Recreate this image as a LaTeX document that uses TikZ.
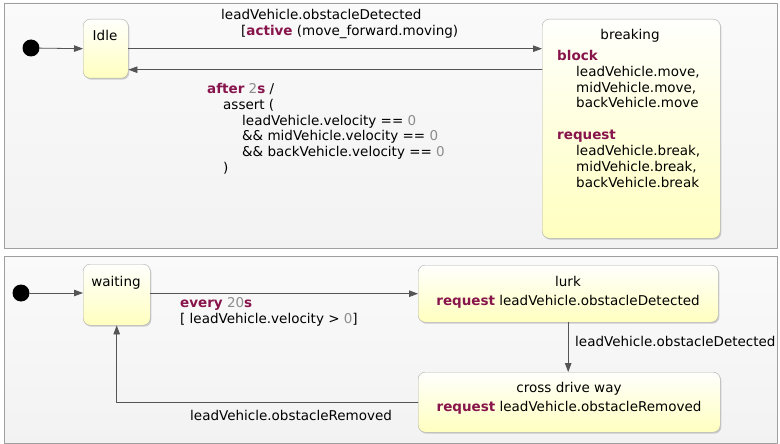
\documentclass[tikz,border=0pt]{standalone}
\usepackage{fontspec}
\setmainfont{DejaVu Sans}
\usepackage[usenames]{xcolor}
\usepackage{tikz}
\usetikzlibrary{arrows.meta,shadows}

\definecolor{kwcol}{RGB}{135,20,75}
\definecolor{numcol}{RGB}{140,140,140}
\definecolor{edgecol}{RGB}{85,85,85}
\newcommand{\kw}[1]{\textcolor{kwcol}{\textbf{#1}}}
\newcommand{\nm}[1]{\textcolor{numcol}{#1}}

\begin{document}
\begin{tikzpicture}[line cap=round,line join=round,x=1pt,y=-1pt,
  font=\fontsize{13.5}{15.8}\selectfont,
  panel/.style={draw=gray!75,top color=gray!4,bottom color=gray!10},
  state/.style={draw=gray!65,rounded corners=7pt,top color=yellow!1,bottom color=yellow!25,
    drop shadow={opacity=0.35,shadow xshift=1.2pt,shadow yshift=-1.5pt},
    anchor=north west,inner sep=0pt},
  trans/.style={draw=edgecol,line width=0.8pt,-{Triangle[length=9pt,width=6.5pt]}},
  txt/.style={anchor=north west,inner sep=0pt,align=left},
  ctxt/.style={anchor=north,inner sep=0pt,align=center},
  init/.style={circle,fill=black,minimum size=17pt,inner sep=0pt}]
\useasboundingbox (0,0) rectangle (780,444);
% upper machine
\draw[panel] (4,3) rectangle (777,248);
\node[init] (init1) at (31,48) {};
\node[state,minimum width=45pt,minimum height=59pt] (idle) at (83,19) {};
\node[ctxt] (idle txt) at (105,30) {Idle};
\node[state,minimum width=178pt,minimum height=219pt] (breaking) at (542,19) {};
\node[ctxt] (breaking txt) at (630,29) {breaking};
\node[txt] (breaking body) at (557,50) {\kw{block}\\
  \hspace*{19pt}leadVehicle.move,\\
  \hspace*{19pt}midVehicle.move,\\
  \hspace*{19pt}backVehicle.move\\[16pt]
  \kw{request}\\
  \hspace*{19pt}leadVehicle.break,\\
  \hspace*{19pt}midVehicle.break,\\
  \hspace*{19pt}backVehicle.break};
\path (idle.east) ++(0,21) coordinate (idle back);
\draw[trans] (init1) -- (idle.west);
\draw[trans] (idle.east) -- (idle.east -| breaking.west);
\draw[trans] (idle back -| breaking.west) -- (idle back);
\node[txt] (detect lbl) at (221,9) {leadVehicle.obstacleDetected\\
  \hspace*{20pt}[\kw{active} (move\_forward.moving)};
\node[txt] (after lbl) at (207,83) {\kw{after} \nm{2}\kw{s} /\\
  \hspace*{16pt}assert (\\
  \hspace*{35pt}leadVehicle.velocity == \nm{0}\\
  \hspace*{35pt}\&\& midVehicle.velocity == \nm{0}\\
  \hspace*{35pt}\&\& backVehicle.velocity == \nm{0}\\
  \hspace*{16pt})};
% lower machine
\draw[panel] (4,256) rectangle (777,443);
\node[init] (init2) at (21,293) {};
\node[state,minimum width=67pt,minimum height=61pt] (waiting) at (83,264) {};
\node[ctxt] (waiting txt) at (116,276) {waiting};
\node[state,minimum width=300pt,minimum height=57pt] (lurk) at (418,265) {};
\node[ctxt] (lurk txt) at (568,276) {lurk\\[3pt]\kw{request} leadVehicle.obstacleDetected};
\node[state,minimum width=302pt,minimum height=60pt] (cross) at (418,372) {};
\node[ctxt] (cross txt) at (569,382) {cross drive way\\[3pt]\kw{request} leadVehicle.obstacleRemoved};
\draw[trans] (init2) -- (waiting.west |- init2);
\draw[trans] (waiting.east |- lurk.west) -- (lurk.west);
\draw[trans] (lurk.south) -- (lurk.south |- cross.north);
\draw[trans] (cross.west) -| (waiting.south);
\node[txt] (every lbl) at (180,297) {\kw{every} \nm{20}\kw{s}\\
  {[} leadVehicle.velocity > \nm{0}]};
\node[txt] (detect lbl2) at (575,336) {leadVehicle.obstacleDetected};
\node[txt] (removed lbl) at (190,410) {leadVehicle.obstacleRemoved};
\end{tikzpicture}
\end{document}
